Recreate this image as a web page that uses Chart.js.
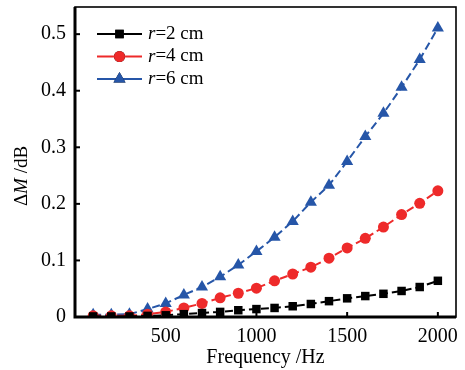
<!DOCTYPE html>
<html>
<head>
<meta charset="utf-8">
<script src="https://cdn.jsdelivr.net/npm/chart.js@4/dist/chart.umd.min.js"></script>
<style>
  html, body { margin: 0; padding: 0; background: #fff; }
  #wrap { width: 465px; height: 370px; }
</style>
</head>
<body>
<div id="wrap"><canvas id="chart" width="465" height="370"></canvas></div>
<script>
const frequencies = [100, 200, 300, 400, 500, 600, 700, 800, 900, 1000, 1100, 1200, 1300, 1400, 1500, 1600, 1700, 1800, 1900, 2000];
const r2 = [0.001, 0.001, 0.001, 0.002, 0.003, 0.005, 0.007, 0.009, 0.012, 0.014, 0.016, 0.019, 0.023, 0.028, 0.033, 0.037, 0.041, 0.046, 0.053, 0.064];
const r4 = [0.002, 0.002, 0.002, 0.005, 0.009, 0.016, 0.024, 0.034, 0.042, 0.051, 0.064, 0.076, 0.088, 0.104, 0.122, 0.139, 0.159, 0.181, 0.201, 0.223];
const r6 = [0.004, 0.004, 0.005, 0.014, 0.024, 0.039, 0.053, 0.071, 0.092, 0.116, 0.141, 0.169, 0.203, 0.233, 0.275, 0.319, 0.36, 0.406, 0.455, 0.511];
const seriesLabels = ['2 cm', '4 cm', '6 cm'];
const xTicks = [500, 1000, 1500, 2000];
const yTicks = [0, 0.1, 0.2, 0.3, 0.4, 0.5];

const FONT = '"Liberation Serif", serif';
const pts = arr => arr.map((v, i) => ({ x: frequencies[i], y: v }));

function series(label, data, color, style, radius){
	return {
		label, data: pts(data),
		borderColor: color, backgroundColor: color,
		borderWidth: 2, borderDash: [8, 4],
		pointStyle: style, pointRadius: radius, pointBorderWidth: 0,
		tension: 0
	};
}

// inward ticks, frame and legend
const decor = {
	id: 'decor',
	afterDraw(chart){
		const { ctx, chartArea: a, scales: { x, y } } = chart;
		ctx.save();
		ctx.strokeStyle = '#000';
		ctx.lineWidth = 2;
		for(const t of xTicks){
			const px = x.getPixelForValue(t);
			ctx.beginPath(); ctx.moveTo(px, a.bottom); ctx.lineTo(px, a.bottom - 5); ctx.stroke();
		}
		for(const t of yTicks){
			const py = y.getPixelForValue(t);
			ctx.beginPath(); ctx.moveTo(a.left, py); ctx.lineTo(a.left + 5, py); ctx.stroke();
		}
		ctx.lineWidth = 1.6;
		ctx.strokeRect(a.left, a.top, a.right - a.left, a.bottom - a.top);
		ctx.lineWidth = 3;
		ctx.beginPath();
		ctx.moveTo(a.left, a.top); ctx.lineTo(a.left, a.bottom); ctx.lineTo(a.right, a.bottom);
		ctx.stroke();

		// legend
		chart.data.datasets.forEach((ds, i) => {
			const ly = a.top + 27 + i * 22.5;
			const x0 = a.left + 22;
			ctx.strokeStyle = ds.borderColor;
			ctx.lineWidth = 2;
			ctx.setLineDash([]);
			ctx.beginPath(); ctx.moveTo(x0, ly); ctx.lineTo(x0 + 45, ly); ctx.stroke();
			Chart.helpers.drawPoint(ctx, { pointStyle: ds.pointStyle, radius: ds.pointRadius, borderWidth: 0 }, x0 + 22.5, ly);
			ctx.fillStyle = ds.borderColor;
			ctx.fill();
			ctx.fillStyle = '#000';
			ctx.textBaseline = 'middle';
			ctx.textAlign = 'left';
			ctx.font = 'italic 19px ' + FONT;
			ctx.fillText('r', x0 + 51, ly);
			const w = ctx.measureText('r').width;
			ctx.font = '19px ' + FONT;
			ctx.fillText('=' + seriesLabels[i], x0 + 51 + w, ly);
		});

		// y title: ΔM /dB
		ctx.translate(22, (a.top + a.bottom) / 2 + 14);
		ctx.rotate(-Math.PI / 2);
		ctx.fillStyle = '#000';
		ctx.textBaseline = 'middle';
		const parts = [['Δ', ''], ['M', 'italic '], [' /dB', '']];
		let total = 0;
		for(const [s, f] of parts){ ctx.font = f + '19px ' + FONT; total += ctx.measureText(s).width; }
		let cx = -total / 2;
		ctx.textAlign = 'left';
		for(const [s, f] of parts){
			ctx.font = f + '19px ' + FONT;
			ctx.fillText(s, cx, 0);
			cx += ctx.measureText(s).width;
		}
		ctx.restore();
	}
};

new Chart(document.getElementById('chart'), {
	type: 'scatter',
	data: {
		datasets: [
			series('r=2 cm', r2, '#000000', 'rect', 6),
			series('r=4 cm', r4, '#ee2a2a', 'circle', 5.5),
			series('r=6 cm', r6, '#2656a8', 'triangle', 7)
		]
	},
	options: {
		responsive: false,
		animation: false,
		showLine: true,
		layout: { padding: { top: 7, right: 9, left: 0, bottom: 0 } },
		plugins: { legend: { display: false }, tooltip: { enabled: false } },
		scales: {
			x: {
				type: 'linear', min: 0, max: 2100,
				afterBuildTicks: s => { s.ticks = xTicks.map(v => ({ value: v })); },
				afterFit: s => { s.height = 53; s.paddingLeft = 0; s.paddingRight = 0; },
				grid: { display: false, drawTicks: false },
				border: { display: false },
				ticks: { color: '#000', font: { family: FONT, size: 20 }, padding: 8, callback: v => String(v) },
				title: { display: true, text: 'Frequency /Hz', color: '#000', font: { family: FONT, size: 20 }, padding: { top: 0, bottom: 0 } }
			},
			y: {
				type: 'linear', min: 0, max: 0.548,
				afterBuildTicks: s => { s.ticks = yTicks.map(v => ({ value: v })); },
				afterFit: s => { s.width = 75; s.paddingTop = 0; s.paddingBottom = 0; },
				grid: { display: false, drawTicks: false },
				border: { display: false },
				ticks: { color: '#000', font: { family: FONT, size: 20 }, padding: 9, callback: v => String(v) }
			}
		}
	},
	plugins: [decor]
});
</script>
</body>
</html>
